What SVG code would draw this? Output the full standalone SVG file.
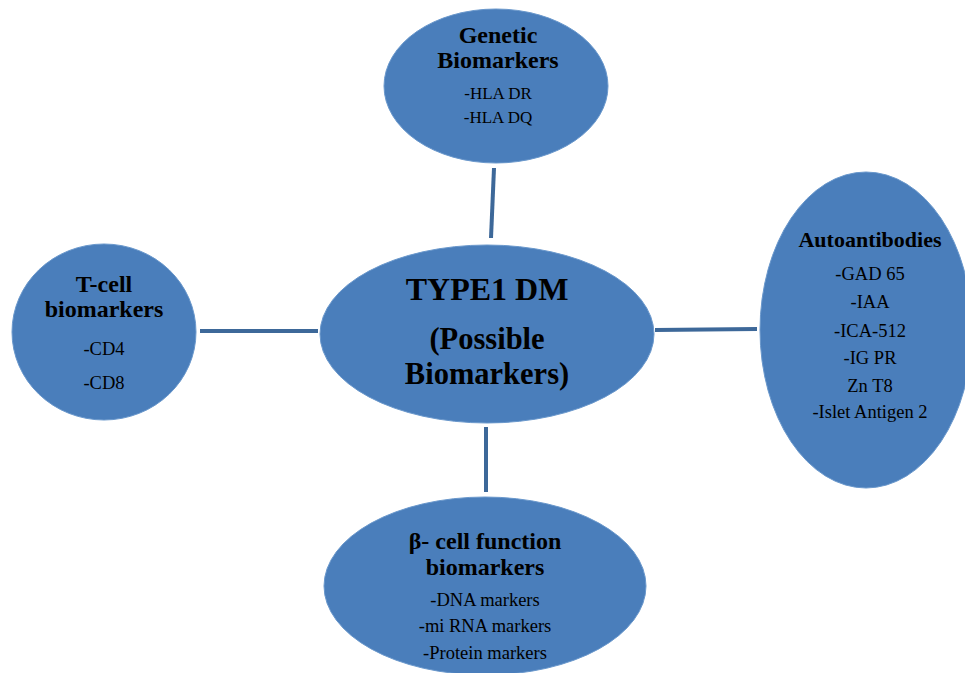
<svg xmlns="http://www.w3.org/2000/svg" width="965" height="673" viewBox="0 0 965 673">
<style>
.node{fill:#4a7ebb;stroke:#6a98cc;stroke-width:1}
.conn{stroke:#3d6899;stroke-width:4;fill:none}
text{font-family:"Liberation Serif","Times New Roman",serif;fill:#000;text-anchor:middle}
.h{font-weight:bold;font-size:24px}
.t{font-size:17px}
.m{font-size:18.5px}
.c{font-weight:bold;font-size:30.5px}
</style>
<rect width="965" height="673" fill="#fff"/>
<g id="connectors">
<line class="conn" x1="494" y1="168" x2="491" y2="238"/>
<line class="conn" x1="200" y1="331" x2="318" y2="331"/>
<line class="conn" x1="655" y1="330" x2="757" y2="329"/>
<line class="conn" x1="486" y1="427" x2="486" y2="492"/>
</g>
<g id="center">
<ellipse class="node" cx="487" cy="334" rx="167" ry="89"/>
<text class="c" x="487" y="300" style="font-size:32px">TYPE1 DM</text>
<text class="c" x="487" y="349">(Possible</text>
<text class="c" x="487" y="384">Biomarkers)</text>
</g>
<g id="genetic">
<ellipse class="node" cx="496" cy="86" rx="112" ry="77"/>
<text class="h" x="498" y="43">Genetic</text>
<text class="h" x="498" y="68">Biomarkers</text>
<text class="t" x="498" y="99">-HLA DR</text>
<text class="t" x="498" y="123">-HLA DQ</text>
</g>
<g id="tcell">
<ellipse class="node" cx="104" cy="332" rx="92" ry="88"/>
<text class="h" x="104" y="292">T-cell</text>
<text class="h" x="104" y="317">biomarkers</text>
<text class="m" x="104" y="355">-CD4</text>
<text class="m" x="104" y="389">-CD8</text>
</g>
<g id="autoantibodies">
<ellipse class="node" cx="866" cy="330" rx="106" ry="158"/>
<text class="h" x="870" y="247" style="font-size:22px">Autoantibodies</text>
<text class="m" x="870" y="280">-GAD 65</text>
<text class="m" x="870" y="308">-IAA</text>
<text class="m" x="870" y="337">-ICA-512</text>
<text class="m" x="870" y="364">-IG PR</text>
<text class="m" x="870" y="392">Zn T8</text>
<text class="m" x="870" y="418">-Islet Antigen 2</text>
</g>
<g id="betacell">
<ellipse class="node" cx="485" cy="586" rx="161" ry="89"/>
<text class="h" x="485" y="549">β- cell function</text>
<text class="h" x="485" y="575">biomarkers</text>
<text class="m" x="485" y="606">-DNA markers</text>
<text class="m" x="485" y="632">-mi RNA markers</text>
<text class="m" x="485" y="659">-Protein markers</text>
</g>
</svg>
